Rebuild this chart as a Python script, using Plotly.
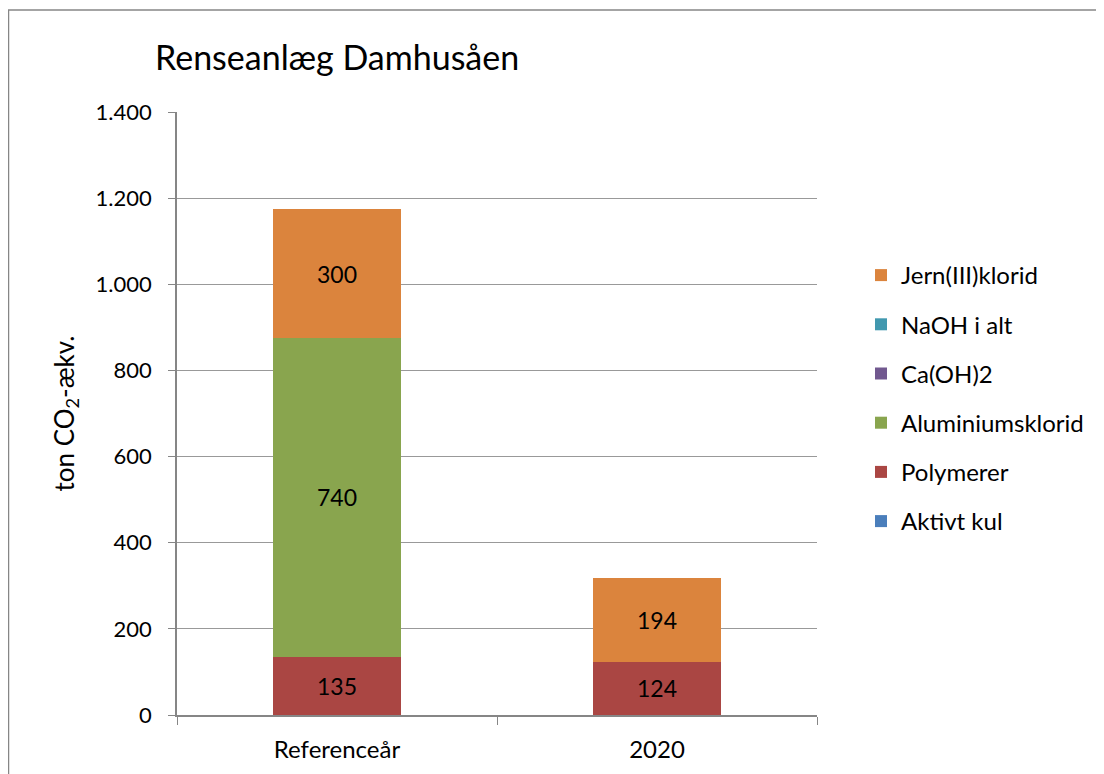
import plotly.graph_objects as go

categories = ["Referenceår", "2020"]
series_names = ["Aktivt kul", "Polymerer", "Aluminiumsklorid", "Ca(OH)2", "NaOH i alt", "Jern(III)klorid"]
aktivt_kul = [0, 0]
polymerer = [135, 124]
aluminiumsklorid = [740, 0]
caoh2 = [0, 0]
naoh = [0, 0]
jern = [300, 194]
colors = ["#4A7EBB", "#AA4643", "#89A54E", "#71588F", "#4198AF", "#DB843D"]
tick_vals = [0, 200, 400, 600, 800, 1000, 1200, 1400]
tick_text = ["0", "200", "400", "600", "800", "1.000", "1.200", "1.400"]

all_values = [aktivt_kul, polymerer, aluminiumsklorid, caoh2, naoh, jern]
FONT = "Lato, 'Open Sans', sans-serif"

fig = go.Figure()
n = len(series_names)
for i, (name, vals, col) in enumerate(zip(series_names, all_values, colors)):
    has_text = any(vals)
    fig.add_trace(go.Bar(
        name=name, x=categories, y=vals, marker=dict(color=col, line=dict(width=0)),
        text=[str(v) if v else "" for v in vals] if has_text else None,
        textposition="inside" if has_text else "none", insidetextanchor="middle", textangle=0,
        textfont=dict(color="black", size=23, family=FONT),
        legendgroup=name, legendrank=n - i,
    ))

# page has an 8px body margin; figure coordinates are offset accordingly
W, H = 1096, 766
L, R, T, B = 169, 809, 104, 707
pw, ph = R - L, B - T

fig.update_layout(
    width=W, height=H, barmode="stack", bargap=0.6,
    plot_bgcolor="white", paper_bgcolor="white",
    margin=dict(l=L, r=W - R, t=T, b=H - B, autoexpand=False),
    font=dict(family=FONT, size=22, color="black"),
    uniformtext=dict(mode="show", minsize=8),
    title=dict(text="Renseanlæg Damhusåen", x=147 / W, xanchor="left",
               y=1 - 50 / H, yanchor="middle", font=dict(size=34, family=FONT)),
    legend=dict(traceorder="grouped", tracegroupgap=15, x=(853 - L) / pw, xanchor="left",
                y=1 - (245 - T) / ph, yanchor="top", font=dict(size=24, family=FONT),
                bgcolor="rgba(0,0,0,0)"),
    xaxis=dict(type="category", tickson="boundaries", ticks="outside", ticklen=8, tickcolor="#868686",
               showline=True, linecolor="#868686", linewidth=1.5, showgrid=False,
               ticklabelstandoff=12, tickfont=dict(size=24), fixedrange=True),
    yaxis=dict(range=[0, 1400], tickvals=tick_vals, ticktext=tick_text, ticks="outside", ticklen=7,
               tickcolor="#868686", showline=True, linecolor="#868686", linewidth=1.5,
               showgrid=True, gridcolor="#999999", gridwidth=1, zeroline=False,
               ticklabelstandoff=12,
               title=dict(text="ton CO<sub>2</sub>-ækv.", font=dict(size=26), standoff=14),
               tickfont=dict(size=22)),
    shapes=[dict(type="rect", xref="paper", yref="paper",
                 x0=(0.5 - L) / pw, x1=(W + 10 - L) / pw,
                 y0=-(H + 10 - B) / ph, y1=(B - 2) / ph,
                 line=dict(color="#868686", width=1.5), fillcolor="rgba(0,0,0,0)", layer="below")],
)

fig.write_html("out.html")
